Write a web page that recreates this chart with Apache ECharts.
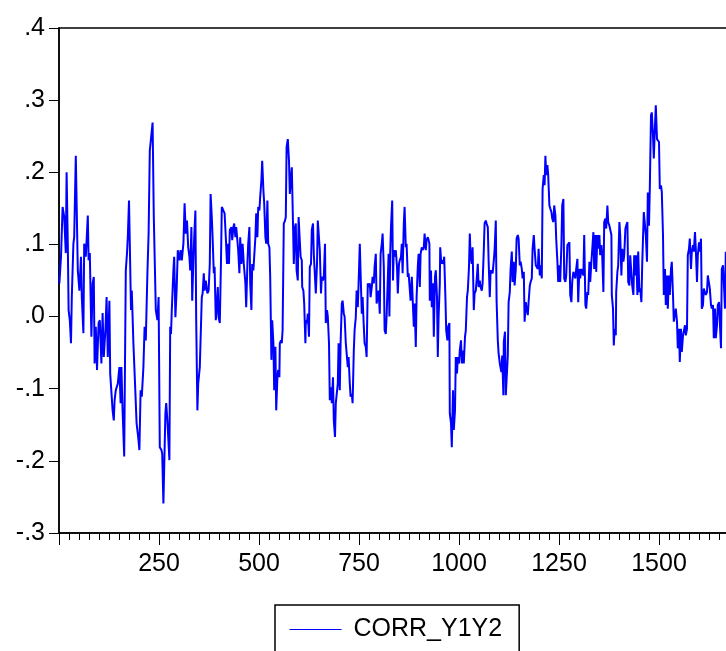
<!DOCTYPE html>
<html>
<head>
<meta charset="utf-8">
<script src="https://cdn.jsdelivr.net/npm/echarts@6/dist/echarts.min.js"></script>
<style>
  html, body { margin: 0; padding: 0; background: #fff; overflow: hidden; }
  /* the reference is cropped on the right, so the chart is wider than the window */
  #chart { width: 759px; height: 651px; }
</style>
</head>
<body>
<div id="chart"></div>
<script>
const segA = [[1,.046],[5,.083],[9,.152],[13,.138],[17,.088],[19,.200],[22,.101],[24,.009],[27,-.005],[30,-.037],[32,.027],[36,.101],[38,.110],[42,.223],[47,.064],[51,.036],[55,.083],[57,.027],[61,-.023],[63,.101],[67,.083],[72,.140],[74,.078],[77,.088],[81,-.028],[84,.046],[87,.055],[89,-.065],[92,-.014],[95,-.074],[99,-.009],[102,-.005],[106,-.065],[109,.005],[112,-.056],[116,-.019],[119,.027],[122,-.056],[126,.022],[128,-.079],[134,-.130],[137,-.144],[139,-.116],[142,-.102],[147,-.093],[151,-.070],[154,-.120],[156,-.070],[159,-.130],[163,-.194],[166,-.194],[167,.064],[170,.088],[172,.110],[175,.161],[177,.101],[180,.009],[182,.036],[186,-.037],[191,-.106],[194,-.148],[198,-.167],[201,-.185],[204,-.102],[207,-.111],[211,-.070],[214,-.014],[217,-.033],[221,.060],[224,.115],[227,.230],[231,.230],[234,.269],[237,.138],[242,.009],[246,-.005],[249,.027],[252,-.181],[256,-.185],[258,-.190],[261,-.259],[262,-.259],[266,-.134],[268,-.120],[271,-.144],[276,-.199]];
const segB = [[278,-.014],[280,-.024],[282,.009],[286,.064],[288,.083],[291,-.001],[294,.036],[297,.092],[301,.078],[304,.092],[307,.078],[311,.101],[314,.157],[317,.115],[320,.133],[323,.096],[326,.083],[328,.064],[331,.124],[333,.022],[336,.078],[338,.110],[341,.147],[343,-.005],[346,-.130],[348,-.093],[352,-.070],[355,-.070],[357,.027],[359,.032],[362,.060],[364,.036],[367,.050],[371,.032],[374,.036],[377,.073],[379,.170],[382,.138],[384,.110],[387,.060],[389,.069],[392,-.005],[394,.009],[397,.041],[399,-.001],[402,-.009],[405,.078],[407,.152],[411,.147],[414,.143],[417,.110],[420,.073],[422,.101],[425,.073],[427,.120],[431,.124],[433,.106],[436,.124],[438,.129],[441,.110],[443,.124],[446,.124],[448,.092],[451,.060],[453,.110],[456,.073],[459,.101],[462,.073],[466,.046],[468,.013],[471,.073],[473,.101],[476,.124],[478,.046],[481,.009],[483,.073],[486,.064],[488,.083],[491,.110],[493,.143],[496,.110],[498,.152],[501,.147],[503,.166],[506,.189],[508,.216],[511,.175],[513,.157],[516,.110],[518,.101],[521,.161],[523,.101],[526,.096],[528,.055],[531,-.060],[533,-.005],[536,-.037],[538,-.102],[541,-.042],[543,-.130],[546,-.084],[548,-.074]];
const segC = [[551,-.084],[552,-.037],[555,-.033],[557,-.037],[559,-.019],[562,.129],[565,.133],[567,.138],[569,.235],[572,.246],[575,.216],[577,.170],[580,.193],[582,.207],[585,.129],[587,.073],[590,.124],[592,.129],[594,.064],[597,.050],[599,.138],[602,.138],[604,.083],[607,.078],[608,.041],[611,.036],[613,.018],[616,-.037],[617,-.005],[620,-.009],[622,.004],[625,-.028],[627,.069],[630,.073],[632,.120],[635,.129],[637,.087],[640,.087],[642,.032],[645,.073],[647,.133],[650,.133],[652,.092],[655,.032],[657,.055],[660,.050],[662,.055],[665,.101],[667,-.009],[670,.009],[672,.000],[675,-.037],[677,-.116],[680,-.098],[682,-.120],[685,-.084],[687,-.144],[690,-.167],[692,-.120],[695,-.120],[697,-.093],[699,-.037],[702,-.102],[704,-.037],[707,.018],[709,.022],[712,.004],[714,.000],[717,-.037],[719,-.037],[722,-.070],[724,-.056],[727,-.093],[729,-.111],[732,-.107],[734,-.120],[737,-.047],[739,-.019],[742,-.001],[744,.036],[747,.013],[749,.046],[752,.101],[754,.060],[757,.004],[759,.027],[762,-.014],[764,-.037],[767,-.042],[769,-.056],[772,.046],[774,.041],[777,.046],[779,.027],[782,.041],[784,.055],[787,.046],[789,.069],[792,.087],[794,.018],[797,.018],[799,.036],[802,.004],[804,.087],[807,.101],[809,.115],[812,.069],[814,-.019],[817,-.024],[819,.000],[822,.000],[824,.087]];
const segD = [[826,.000],[828,.087],[830,.125],[833,.161],[835,.050],[837,.092],[840,.083],[842,.092],[845,.069],[847,.032],[850,.073],[852,.078],[855,.083],[857,.101],[859,.060],[862,.129],[864,.152],[867,.096],[869,.101],[872,.055],[874,.060],[877,.060],[879,.022],[882,.055],[884,.027],[887,-.014],[889,.018],[892,-.042],[894,.027],[897,.069],[899,.087],[902,.041],[904,.087],[907,.096],[909,.092],[912,.096],[914,.115],[917,.092],[919,.106],[922,.110],[924,.106],[926,.101],[927,.022],[930,.064],[932,.013],[935,.046],[937,-.028],[940,.055],[942,.064],[945,.027],[947,-.056],[949,.000],[952,.046],[953,.096],[956,.073],[958,.078],[961,.073],[963,.083],[966,.027],[968,-.019],[971,-.033],[973,-.014],[976,-.009],[977,-.134],[980,-.148],[982,-.181],[985,-.102],[987,-.157],[990,-.130],[992,-.056],[995,-.079],[997,-.056],[1000,-.065],[1002,-.047],[1005,-.033],[1007,-.065],[1010,-.047],[1012,-.065],[1015,-.028],[1017,-.019],[1020,.027],[1022,.036],[1025,.069],[1027,.115],[1029,.083],[1032,.073],[1034,.096],[1037,.009],[1039,.032],[1042,.036],[1044,.050],[1047,.073],[1049,.041],[1052,.050],[1054,.041],[1057,.036],[1059,.046],[1062,.092],[1064,.129],[1067,.133],[1069,.129],[1072,.124],[1074,.078],[1077,.027],[1079,.064],[1082,.064],[1084,.060],[1087,.078],[1089,.092],[1092,.133],[1094,.022],[1097,-.033],[1099,-.051],[1102,-.065]];
const segE = [[1103,-.063],[1106,-.077],[1108,-.054],[1111,-.109],[1112,-.035],[1115,-.021],[1117,-.109],[1119,-.109],[1122,-.054],[1124,.020],[1127,.034],[1129,.066],[1132,.090],[1134,.048],[1137,.076],[1139,.043],[1142,.066],[1144,.108],[1147,.113],[1149,.108],[1152,.071],[1154,.076],[1157,.066],[1159,.053],[1162,.062],[1164,-.007],[1167,.020],[1169,.011],[1172,.002],[1174,.020],[1177,.043],[1179,.048],[1182,.053],[1184,.094],[1187,.113],[1189,.094],[1192,.071],[1194,.071],[1197,.066],[1199,.094],[1202,.057],[1204,.071],[1207,.053],[1209,.177],[1212,.196],[1214,.182],[1216,.223],[1218,.196],[1221,.210],[1223,.196],[1226,.154],[1228,.150],[1231,.145],[1233,.136],[1236,.131],[1238,.154],[1241,.140],[1243,.108],[1246,.076],[1248,.048],[1251,.071],[1253,.048],[1256,.099],[1258,.154],[1261,.163],[1263,.053],[1266,.048],[1268,.057],[1271,.099],[1273,.099],[1276,.103],[1278,.030],[1281,.020],[1283,.048],[1286,.062],[1288,.062],[1291,.053],[1293,.066],[1296,.080],[1298,.020],[1301,.066],[1303,.053],[1306,.066],[1308,.066],[1311,.057],[1313,.113],[1316,.016],[1318,.011],[1321,.034],[1323,.030],[1326,.076],[1328,.048],[1331,.076],[1333,.076],[1336,.117],[1338,.066],[1341,.113],[1343,.062],[1346,.113],[1348,.094],[1351,.113],[1353,.085],[1356,.099],[1358,.085],[1361,.034],[1363,.131],[1366,.136],[1368,.122],[1371,.154],[1373,.131],[1376,.126]];
const segF = [[1378,.126],[1381,.113],[1382,.030],[1385,.011],[1387,-.040],[1389,-.017],[1392,-.026],[1393,.034],[1396,.062],[1398,.071],[1401,.131],[1403,.113],[1406,.057],[1408,.094],[1411,.076],[1413,.085],[1416,.122],[1418,.126],[1421,.131],[1423,.048],[1426,.043],[1428,.085],[1431,.085],[1433,.043],[1436,.030],[1438,.085],[1441,.057],[1443,.085],[1446,.030],[1448,.090],[1451,.034],[1453,.039],[1456,.020],[1458,.071],[1461,.071],[1462,.145],[1465,.126],[1467,.113],[1470,.076],[1472,.172],[1475,.126],[1477,.177],[1480,.279],[1482,.283],[1485,.251],[1487,.219],[1490,.265],[1492,.293],[1495,.246],[1497,.246],[1500,.242],[1502,.177],[1505,.182],[1507,.173],[1510,.113],[1512,.030],[1515,.066],[1517,.016],[1520,.057],[1522,.011],[1525,.057],[1527,.030],[1530,.066],[1532,.076],[1535,.030],[1537,-.007],[1540,-.007],[1542,.011],[1545,-.007],[1547,-.044],[1550,-.017],[1552,-.063],[1555,-.017],[1557,-.049],[1560,-.026],[1562,-.026],[1565,-.012],[1567,-.026],[1570,-.017],[1572,.085],[1575,.094],[1577,.108],[1580,.066],[1582,.090],[1585,.099],[1587,.090],[1590,.117],[1592,.094],[1595,.048],[1597,.085],[1600,.103],[1602,.090],[1605,.108],[1607,.011],[1610,.016],[1612,.039],[1615,.039],[1617,.030],[1620,.034],[1622,.057],[1625,.057],[1627,.039],[1630,.016],[1632,.011],[1635,.016],[1637,-.030],[1640,.011],[1642,-.030],[1645,-.012],[1647,.016],[1650,.020],[1652,-.007],[1655,-.044],[1657,.066],[1660,.071],[1662,.048],[1665,.011],[1667,.090]];

const seriesName = 'CORR_Y1Y2';
const xTicks = { min: 0, max: 1750, step: 250 };
const yTicks = { min: -0.3, max: 0.4, step: 0.1 };

const font = '"Liberation Sans", Arial, sans-serif';
const corr = [].concat(segA, segB, segC, segD, segE, segF);

// canvas size forced: plot runs past the right edge of the window
const chart = echarts.init(document.getElementById('chart'), null, { width: 759, height: 651 });

// EViews style labels: .4  .0  -.1
const fmtY = (v) => {
  const s = (Math.round(v * 10) / 10).toFixed(1);
  return s.replace('0.', '.');
};

chart.setOption({
  animation: false,
  grid: {
    left: 59, top: 28, right: 0, bottom: 118,
    show: true, borderColor: '#000', borderWidth: 1.5
  },
  xAxis: {
    type: 'value',
    min: xTicks.min, max: xTicks.max, interval: xTicks.step,
    axisLine: { show: true, onZero: false, lineStyle: { color: '#000', width: 1.5 } },
    axisTick: { show: true, length: 12, lineStyle: { color: '#000', width: 1 } },
    minorTick: { show: true, splitNumber: 10, length: 7, lineStyle: { color: '#000', width: 1 } },
    splitLine: { show: false },
    axisLabel: {
      showMinLabel: false, showMaxLabel: false,
      fontSize: 25, color: '#000', margin: 19, fontFamily: font,
      formatter: (v) => String(v)
    }
  },
  yAxis: {
    type: 'value',
    min: yTicks.min, max: yTicks.max, interval: yTicks.step,
    axisLine: { show: true, onZero: false, lineStyle: { color: '#000', width: 1.5 } },
    axisTick: { show: true, length: 10, lineStyle: { color: '#000', width: 1 } },
    splitLine: { show: false },
    axisLabel: { formatter: fmtY, fontSize: 25, color: '#000', margin: 14, fontFamily: font }
  },
  legend: {
    data: [seriesName],
    left: 275, top: 605,
    padding: [12, 17, 12, 14],
    borderColor: '#000', borderWidth: 1.5, borderRadius: 0,
    itemWidth: 52, itemHeight: 26,
    lineStyle: { width: 1 },
    itemStyle: { opacity: 0 },
    textStyle: { fontSize: 25, color: '#000', fontFamily: font, padding: [0, 0, 0, 7] }
  },
  series: [{
    name: seriesName,
    type: 'line',
    data: corr,
    symbol: 'none',
    lineStyle: { color: '#0000FF', width: 2 },
    itemStyle: { color: '#0000FF' }
  }]
});
</script>
</body>
</html>
